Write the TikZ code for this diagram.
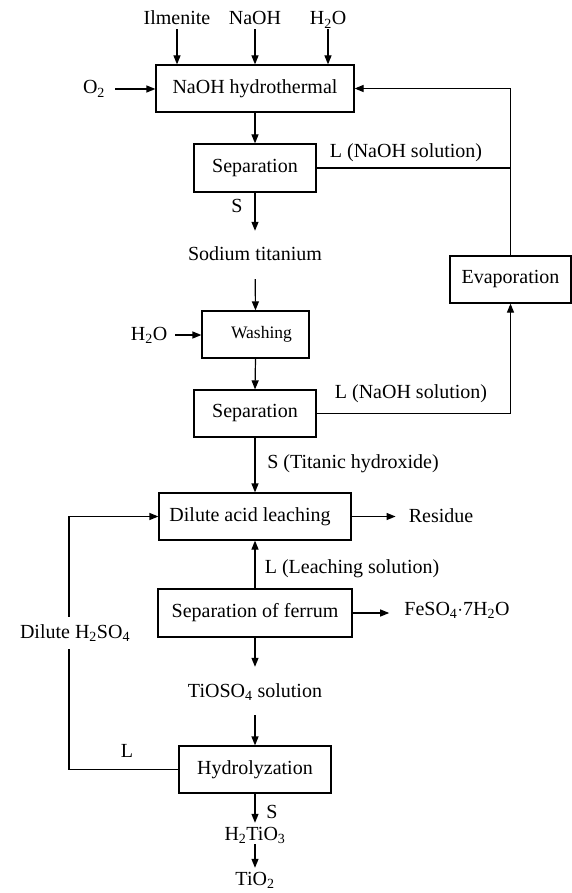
\documentclass[tikz,border=0pt]{standalone}
\usepackage{fontspec}
\setmainfont{Liberation Serif}
\usetikzlibrary{arrows.meta}
\newcommand\sbs[1]{\textsubscript{#1}}
\begin{document}
\begin{tikzpicture}[x=1pt,y=-1pt,
  font=\fontsize{20}{24}\selectfont,
  procbox/.style={draw, line width=1.2pt, inner sep=0pt, minimum height=47pt},
  txt/.style={inner sep=0pt, text height=14pt, text depth=4pt},
  arr/.style={line width=1.2pt, -{Triangle[length=9pt,width=7pt]}},
  ln/.style={line width=1.2pt}]
\useasboundingbox[fill=white] (0,0) rectangle (572,893);

% process boxes
\node[procbox, minimum width=198pt] (hyd) at (255,88.5) {NaOH hydrothermal};
\node[procbox, minimum width=122pt, minimum height=48pt] (sep1) at (255,168) {Separation};
\node[procbox, minimum width=121pt] (evap) at (510.5,279.5) {Evaporation};
\node[procbox, minimum width=107pt, font=\fontsize{17.5}{21}\selectfont] (wash) at (255.5,334.5) {\hspace*{12pt}Washing};
\node[procbox, minimum width=122pt] (sep2) at (255,413.5) {Separation};
\node[procbox, minimum width=192pt] (leach) at (255,516.5) {Dilute acid leaching\hspace*{10pt}};
\node[procbox, minimum width=194pt, minimum height=48pt] (sf) at (255,613) {Separation of ferrum};
\node[procbox, minimum width=152pt] (hydro) at (255,769.5) {Hydrolyzation};

% text nodes
\node[txt] (ilm) at (177,20) {Ilmenite};
\node[txt] (naoh) at (255,20) {NaOH};
\node[txt] (h2o) at (328,20) {H\sbs{2}O};
\node[txt] (o2) at (94,89) {O\sbs{2}};
\node[txt] (lsol1) at (406,153) {L (NaOH solution)};
\node[txt] (s1) at (237,208) {S};
\node[txt] (sod) at (255,255) {Sodium titanium};
\node[txt] (h2ob) at (149,335) {H\sbs{2}O};
\node[txt] (lsol2) at (411,393) {L (NaOH solution)};
\node[txt] (stit) at (353,463) {S (Titanic hydroxide)};
\node[txt] (res) at (441,517) {Residue};
\node[txt] (lleach) at (352,568) {L (Leaching solution)};
\node[txt] (feso) at (457,610) {FeSO\sbs{4}$\cdot$7H\sbs{2}O};
\node[txt] (tioso) at (255,692) {TiOSO\sbs{4} solution};
\node[txt] (lh) at (127,752) {L};
\node[txt] (s2) at (272,813) {S};
\node[txt] (h2tio3) at (255,835) {H\sbs{2}TiO\sbs{3}};
\node[txt] (tio2) at (255,880) {TiO\sbs{2}};
\coordinate (lc) at (69,516.5);

% connectors
\draw[arr] (ilm.south) -- (ilm.south |- hyd.north);
\draw[arr] (naoh.south) -- (naoh.south |- hyd.north);
\draw[arr] (h2o.south) -- (h2o.south |- hyd.north);
\draw[arr, shorten <=10pt] (o2.east) -- (o2.east -| hyd.west);
\draw[arr] (hyd.south) -- (sep1.north);
\draw[ln] (sep1.east) -- (sep1.east -| evap.north);
\draw[arr] (evap.north) |- (hyd.east);
\draw[arr, shorten >=15pt] (sep1.south) -- (sod.north);
\draw[arr, shorten <=15pt] (sod.south) -- (wash.north);
\draw[arr, shorten <=8pt] (h2ob.east) -- (h2ob.east -| wash.west);
\draw[arr] (wash.south) -- (sep2.north);
\draw[arr] (sep2.east) -| (evap.south);
\draw[arr] (sep2.south) -- (leach.north);
\draw[arr, shorten >=13pt] (leach.east) -- (leach.east -| res.west);
\draw[arr] (sf.north) -- (leach.south);
\draw[arr, shorten >=15pt] (sf.east) -- (sf.east -| feso.west);
\draw[arr, shorten >=16pt] (sf.south) -- (tioso.north);
\draw[arr, shorten <=14pt] (tioso.south) -- (hydro.north);
\draw[arr] (hydro.west) -| (lc) -- (leach.west);
\draw[arr, shorten >=3pt] (hydro.south) -- (h2tio3.north);
\draw[arr, shorten >=3pt] (h2tio3.south) -- (tio2.north);

\node[txt, fill=white, inner ysep=7pt, inner xsep=2pt] (dil) at (75,633) {Dilute H\sbs{2}SO\sbs{4}};
\end{tikzpicture}
\end{document}
